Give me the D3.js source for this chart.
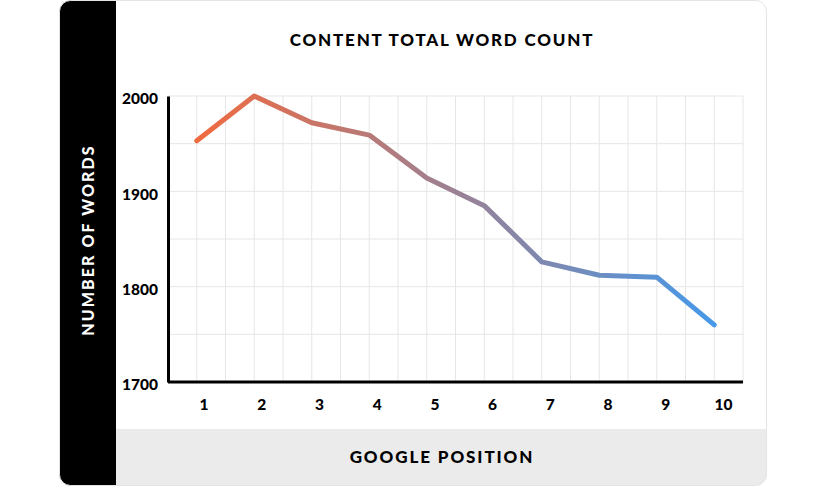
<!DOCTYPE html>
<html><head><meta charset="utf-8">
<script src="https://cdn.jsdelivr.net/npm/d3@7"></script>
<style>html,body{margin:0;padding:0;background:#fff;}svg{display:block;font-family:Lato,"DejaVu Sans",sans-serif;}</style>
</head><body>
<svg id="c" width="827" height="490"></svg>
<script>
const positions = [1,2,3,4,5,6,7,8,9,10];
const wordCounts = [1953,2000,1972,1959,1914,1885,1826,1812,1810,1760];
const yTicks = [1700,1800,1900,2000];
const title = "CONTENT TOTAL WORD COUNT";
const xTitle = "GOOGLE POSITION";
const yTitle = "NUMBER OF WORDS";

const svg = d3.select("#c");
const defs = svg.append("defs");
const card = {x:59.5, y:0.5, w:707, h:485, r:11};
defs.append("clipPath").attr("id","cardClip").append("rect")
  .attr("x",card.x).attr("y",card.y).attr("width",card.w).attr("height",card.h).attr("rx",card.r);

svg.append("rect").attr("x",card.x).attr("y",card.y).attr("width",card.w).attr("height",card.h)
  .attr("rx",card.r).attr("fill","#fff");
const inner = svg.append("g").attr("clip-path","url(#cardClip)");
inner.append("rect").attr("x",59).attr("y",0).attr("width",57).attr("height",490).attr("fill","#000");
inner.append("rect").attr("x",116).attr("y",429).attr("width",660).attr("height",60).attr("fill","#ebebeb");
svg.append("rect").attr("x",card.x).attr("y",card.y).attr("width",card.w).attr("height",card.h)
  .attr("rx",card.r).attr("fill","none").attr("stroke","#e4e4e4").attr("stroke-width",1);

const x = d3.scaleLinear().domain([0.5,10.5]).range([168,743]);
const y = d3.scaleLinear().domain([1700,2000]).range([382,96]);
// tick label placement (labels sit slightly right of their grid positions)
const xLabel = d3.scaleLinear().domain([1,10]).range([203.5,723]);

// grid
const g = svg.append("g");
g.selectAll("line.v").data(d3.range(1,21).map(i=>0.5+i*0.5)).enter().append("line")
  .attr("x1",d=>x(d)).attr("x2",d=>x(d)).attr("y1",y(2000)).attr("y2",y(1700))
  .attr("stroke","#e6e6e6").attr("stroke-width",1);
g.selectAll("line.h").data(d3.range(1750,2001,50)).enter().append("line")
  .attr("x1",x(0.5)).attr("x2",x(10.5)).attr("y1",d=>y(d)).attr("y2",d=>y(d))
  .attr("stroke","#e6e6e6").attr("stroke-width",1);

// axes
const yAxis = svg.append("g").attr("transform",`translate(${x(0.5)},0)`)
  .call(d3.axisLeft(y).tickValues(yTicks).tickSize(0).tickPadding(10).tickFormat(d3.format("d")));
yAxis.select(".domain").attr("stroke","#000").attr("stroke-width",3);
yAxis.selectAll(".tick text").attr("dy","0.5em");
const xAxis = svg.append("g").attr("transform",`translate(0,${y(1700)})`)
  .call(d3.axisBottom(xLabel).tickValues(positions).tickSize(0).tickPadding(17).tickFormat(d3.format("d")));
xAxis.select(".domain").remove();
svg.append("line").attr("x1",x(0.5)).attr("x2",x(10.5)).attr("y1",y(1700)).attr("y2",y(1700))
  .attr("stroke","#000").attr("stroke-width",3);
svg.selectAll(".tick text").attr("font-family","Lato, sans-serif").attr("font-weight",900)
  .attr("font-size",15.5).attr("fill","#000");

// gradient line
const grad = defs.append("linearGradient").attr("id","lg").attr("gradientUnits","userSpaceOnUse")
  .attr("x1",x(1)).attr("x2",x(10)).attr("y1",0).attr("y2",0);
grad.append("stop").attr("offset","0%").attr("stop-color","#f06a40");
grad.append("stop").attr("offset","100%").attr("stop-color","#4698e8");
const line = d3.line().x((d,i)=>x(positions[i])).y(d=>y(d));
svg.append("path").datum(wordCounts).attr("d",line).attr("fill","none")
  .attr("stroke","url(#lg)").attr("stroke-width",5).attr("stroke-linejoin","round").attr("stroke-linecap","round");

// titles
svg.append("text").attr("x",442).attr("y",46).attr("text-anchor","middle")
  .attr("font-weight",900).attr("font-size",17).attr("letter-spacing",1.8).attr("fill","#000").text(title);
svg.append("text").attr("x",442).attr("y",463).attr("text-anchor","middle")
  .attr("font-weight",900).attr("font-size",17).attr("letter-spacing",1.9).attr("fill","#000").text(xTitle);
svg.append("text").attr("transform","translate(94,240) rotate(-90)").attr("text-anchor","middle")
  .attr("font-weight",900).attr("font-size",16).attr("letter-spacing",2.1).attr("fill","#fff").text(yTitle);
</script>
</body></html>
